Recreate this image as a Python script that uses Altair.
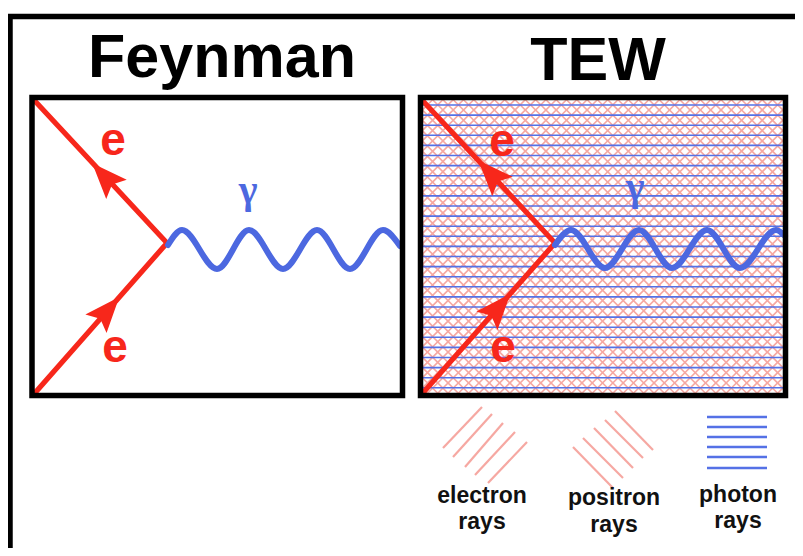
import altair as alt
import pandas as pd

# ---------------- data (image pixel coordinates) ----------------
TITLES = ["Feynman", "TEW"]
TITLE_X = [222, 598]
TITLE_Y = [77, 80]

# panel frames (stroke centre lines)
FRAME_X0 = [32, 420.5]
FRAME_X1 = [402.5, 785.5]
FRAME_Y0 = [97.5, 97.5]
FRAME_Y1 = [395.5, 395.5]

# red electron lines: top corner -> vertex -> bottom corner
LEFT_E_X = [34, 167, 34]
LEFT_E_Y = [100, 243, 394]
RIGHT_E_X = [422, 555, 422]
RIGHT_E_Y = [100, 243, 394]

# arrowheads
ARROW_X = [105, 107, 491, 498]
ARROW_Y = [177, 311, 174, 308]
ARROW_ANGLE = [317, 41, 317, 41]

# photon waves (extrema of the wiggle)
LEFT_W_X = [168, 182, 217, 249, 283, 317, 350, 383, 400]
LEFT_W_Y = [245, 230, 269, 230, 269, 230, 269, 230, 246]
RIGHT_W_X = [555, 571, 605, 639, 672, 707, 740, 776, 785]
RIGHT_W_Y = [245, 230, 268, 230, 268, 230, 268, 230, 236]

# labels
E_LABEL_X = [113, 115, 502, 503]
E_LABEL_Y = [155, 362, 156, 362]
GAMMA_X = [248, 635]
GAMMA_Y = [203, 200]

# legend
ELEC_X1 = [443, 453, 465, 475, 488]
ELEC_Y1 = [448, 457, 467, 475, 483]
ELEC_X2 = [482, 492, 503, 515, 527]
ELEC_Y2 = [407, 414, 423, 432, 442]
POS_X1 = [573, 583, 594, 605, 615]
POS_Y1 = [447, 438, 428, 420, 411]
POS_X2 = [613, 623, 633, 643, 653]
POS_Y2 = [488, 478, 468, 458, 450]
PHOT_Y = [417, 427, 437, 447, 457, 468]
PHOT_X1 = 707
PHOT_X2 = 767
LEG_TEXT = ["electron", "rays", "positron", "rays", "photon", "rays"]
LEG_X = [482, 482, 614, 614, 738, 738]
LEG_Y = [503, 529, 505, 532, 502, 528]

# hatch texture region (TEW panel)
HX0, HX1, HY0, HY1 = 421, 786, 98, 395
HATCH_STEP = 10.3
BLUE_Y0 = 105
BLUE_STEP = 10.1
BLUE_N = 29

RED = "#f7271b"
BLUE = "#4c68e0"
PINK = "#f6a8a2"
HBLUE = "#5571e6"

# ---------------- build tables ----------------
def clip(m, c):
    # line y = m*x + c clipped to hatch box
    xs_ = sorted([(HY0 - c) / m, (HY1 - c) / m])
    lo, hi = max(HX0, xs_[0]), min(HX1, xs_[1])
    if hi <= lo:
        return None
    return lo, m * lo + c, hi, m * hi + c

hatch_rows = []
for k in range(-80, 160):
    c = BLUE_Y0 + 5 + k * HATCH_STEP
    for m in (1, -1):
        r = clip(m, c)
        if r:
            hatch_rows.append(dict(x=r[0], y=r[1], x2=r[2], y2=r[3]))
hatch = pd.DataFrame(hatch_rows)

blue_h = pd.DataFrame(dict(y=[BLUE_Y0 + i * BLUE_STEP for i in range(BLUE_N)]))
blue_h["x"] = HX0
blue_h["x2"] = HX1

xs = alt.Scale(domain=[8, 795], nice=False, zero=False)
ys = alt.Scale(domain=[8, 548], nice=False, zero=False, reverse=True)

def X(f="x"):
    return alt.X(f + ":Q", scale=xs, axis=None)

def Y(f="y"):
    return alt.Y(f + ":Q", scale=ys, axis=None)

layers = []

# outer frame
outer = pd.DataFrame(dict(x=[10, 7], y=[14, 16.5], x2=[10, 803], y2=[556, 16.5]))
layers.append(alt.Chart(outer).mark_rule(color="#000", strokeWidth=5.5).encode(
    x=X(), y=Y(), x2="x2:Q", y2="y2:Q"))

# hatch
layers.append(alt.Chart(hatch).mark_rule(color=PINK, strokeWidth=1.7).encode(
    x=X(), y=Y(), x2="x2:Q", y2="y2:Q"))
layers.append(alt.Chart(blue_h).mark_rule(color=HBLUE, strokeWidth=1.6).encode(
    x=X(), y=Y(), x2="x2:Q"))

# electron lines
eline = pd.DataFrame(dict(
    x=LEFT_E_X + RIGHT_E_X, y=LEFT_E_Y + RIGHT_E_Y,
    g=["L"] * 3 + ["R"] * 3, i=[0, 1, 2] * 2))
layers.append(alt.Chart(eline).mark_line(color=RED, strokeWidth=5.2, strokeJoin="miter").encode(
    x=X(), y=Y(), detail="g:N", order="i:Q"))

# waves
wave = pd.DataFrame(dict(
    x=LEFT_W_X + RIGHT_W_X, y=LEFT_W_Y + RIGHT_W_Y,
    g=["L"] * len(LEFT_W_X) + ["R"] * len(RIGHT_W_X),
    i=list(range(len(LEFT_W_X))) + list(range(len(RIGHT_W_X)))))
layers.append(alt.Chart(wave).mark_line(color=BLUE, strokeWidth=6, interpolate="monotone",
                                        strokeCap="round").encode(
    x=X(), y=Y(), detail="g:N", order="i:Q"))

# arrows
arr = pd.DataFrame(dict(x=ARROW_X, y=ARROW_Y, a=ARROW_ANGLE))
layers.append(alt.Chart(arr).mark_point(
    shape="M0,-1L0.75,0.9L0,0.55L-0.75,0.9Z", filled=True, color=RED, opacity=1,
    size=1400, strokeWidth=0).encode(
    x=X(), y=Y(), angle=alt.Angle("a:Q", scale=None)))

# frames
frames = pd.DataFrame(dict(x=FRAME_X0, x2=FRAME_X1, y=FRAME_Y0, y2=FRAME_Y1))
layers.append(alt.Chart(frames).mark_rect(fillOpacity=0, stroke="#000", strokeWidth=5.5).encode(
    x=X(), y=Y(), x2="x2:Q", y2="y2:Q"))

# titles
titles = pd.DataFrame(dict(x=TITLE_X, y=TITLE_Y, t=TITLES))
layers.append(alt.Chart(titles).mark_text(font="Liberation Sans", fontWeight="bold", fontSize=61,
                                          color="#000", baseline="alphabetic", align="center").encode(
    x=X(), y=Y(), text="t:N"))

# e labels
elab = pd.DataFrame(dict(x=E_LABEL_X, y=E_LABEL_Y, t=["e"] * 4))
layers.append(alt.Chart(elab).mark_text(font="Liberation Sans", fontWeight="bold", fontSize=46,
                                        color=RED, baseline="alphabetic", align="center").encode(
    x=X(), y=Y(), text="t:N"))

# gamma labels
glab = pd.DataFrame(dict(x=GAMMA_X, y=GAMMA_Y, t=["γ"] * 2))
layers.append(alt.Chart(glab).mark_text(font="Liberation Serif", fontWeight="bold", fontSize=40,
                                        color=BLUE, baseline="alphabetic", align="center").encode(
    x=X(), y=Y(), text="t:N"))

# legend glyphs
leg_lines = pd.DataFrame(dict(
    x=ELEC_X1 + POS_X1, y=ELEC_Y1 + POS_Y1, x2=ELEC_X2 + POS_X2, y2=ELEC_Y2 + POS_Y2))
layers.append(alt.Chart(leg_lines).mark_rule(color=PINK, strokeWidth=2.2).encode(
    x=X(), y=Y(), x2="x2:Q", y2="y2:Q"))
phot = pd.DataFrame(dict(y=PHOT_Y, x=[PHOT_X1] * len(PHOT_Y), x2=[PHOT_X2] * len(PHOT_Y)))
layers.append(alt.Chart(phot).mark_rule(color=HBLUE, strokeWidth=2.4).encode(
    x=X(), y=Y(), x2="x2:Q"))

leg_text = pd.DataFrame(dict(x=LEG_X, y=LEG_Y, t=LEG_TEXT))
layers.append(alt.Chart(leg_text).mark_text(font="Liberation Sans", fontWeight="bold", fontSize=23,
                                            color="#111", baseline="alphabetic", align="center").encode(
    x=X(), y=Y(), text="t:N"))

chart = alt.layer(*layers).properties(
    width=787, height=540, padding=0, autosize=alt.AutoSizeParams(type="none"),
    background="white",
).configure_view(stroke=None)

chart.save("out.html", embed_options={"renderer": "svg", "actions": False})
